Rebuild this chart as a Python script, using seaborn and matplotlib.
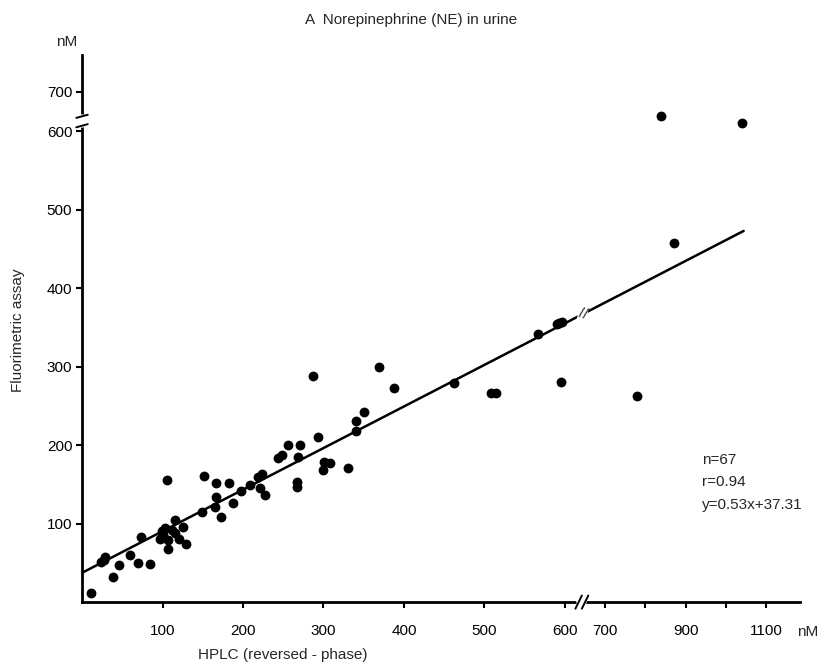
# Fluorimetric assay vs HPLC for urinary norepinephrine, with broken axes
import numpy as np
import pandas as pd
import seaborn as sns
import matplotlib.pyplot as plt

# HPLC values (nM)
hplc = [11, 24, 27, 29, 39, 46, 60, 70, 73, 84,
        97, 99, 101, 103, 105, 107, 107, 112, 115, 115,
        126, 129, 149, 152, 165, 166, 166, 173, 183, 187,
        198, 209, 219, 221, 224, 227, 244, 249, 256, 267,
        267, 268, 271, 287, 293, 299, 301, 308, 331, 341,
        341, 350, 369, 387, 462, 508, 514, 566, 590, 593,
        596, 595, 780, 872, 839, 1039, 120]
# fluorimetric values (nM)
fluor = [11, 51, 54, 57, 32, 47, 60, 50, 83, 48,
         81, 90, 85, 94, 155, 79, 68, 92, 104, 88,
         96, 74, 115, 161, 121, 152, 134, 108, 152, 126,
         141, 149, 160, 145, 163, 137, 183, 188, 200, 153,
         147, 185, 200, 288, 211, 168, 179, 177, 171, 231,
         218, 242, 300, 273, 279, 266, 266, 341, 354, 356,
         357, 280, 263, 458, 639, 621, 80]

slope = 0.53
intercept = 37.31
x_ticks = [100, 200, 300, 400, 500, 600, 700, 800, 900, 1000, 1100]
x_ticklabels = ['100', '200', '300', '400', '500', '600', '700', '', '900', '', '1100']
y_ticks = [100, 200, 300, 400, 500, 600, 700]
stats_lines = ['n=67', 'r=0.94', 'y=0.53x+37.31']

df = pd.DataFrame({'HPLC': hplc, 'Fluor': fluor})


# above 600 nM both axes are squeezed to half scale
def fwd(v):
    v = np.asarray(v, dtype=float)
    return np.where(v <= 600, v, 600 + (v - 600) * 0.5)


def inv(v):
    v = np.asarray(v, dtype=float)
    return np.where(v <= 600, v, 600 + (v - 600) * 2.0)


sns.set_style('ticks')
plt.rcParams['font.family'] = ['Liberation Sans', 'DejaVu Sans']

fig = plt.figure(figsize=(8.21, 6.72), dpi=100)
ax = fig.add_axes([0.0999, 0.104, 0.875, 0.814])
ax.set_xscale('function', functions=(fwd, inv))
ax.set_yscale('function', functions=(fwd, inv))

sns.scatterplot(data=df, x='HPLC', y='Fluor', ax=ax, color='black',
                s=50, edgecolor='black', linewidth=0, legend=False, zorder=3)

# fit line is straight on the page, so it follows the squeezed x axis
line_x = np.linspace(0, 1044, 100)
line_y = slope * fwd(line_x) + intercept
sns.lineplot(x=line_x, y=line_y, ax=ax, color='black', linewidth=1.8,
             sort=False, estimator=None)
ax.text(644, slope * fwd(644) + intercept, '//', fontsize=11, ha='center', va='center',
        rotation=-15, bbox=dict(fc='white', ec='none', pad=0.2), zorder=4)

ax.set_xlim(0, 1185)
ax.set_ylim(0, 794)
ax.set_xticks(x_ticks)
ax.set_xticklabels(x_ticklabels)
ax.set_yticks(y_ticks)
ax.tick_params(axis='both', direction='out', length=4, width=1.5, labelsize=11, pad=12,
               colors='black')
ax.tick_params(axis='y', pad=3)
ax.set_xlabel('')
ax.set_ylabel('')
sns.despine(ax=ax)
for side in ['left', 'bottom']:
    ax.spines[side].set_linewidth(2)
    ax.spines[side].set_color('black')

# axis breaks
xt = ax.get_xaxis_transform()
ax.plot([634, 648], [0, 0], transform=xt, color='white', lw=4, clip_on=False, zorder=5)
for bx in [632, 648]:
    ax.plot([bx - 6, bx + 10], [-0.012, 0.012], transform=xt, color='black', lw=1.4,
            clip_on=False, zorder=6)
yt = ax.get_yaxis_transform()
ax.plot([0, 0], [616, 636], transform=yt, color='white', lw=4, clip_on=False, zorder=5)
for by in [614, 638]:
    ax.plot([-0.008, 0.008], [by - 4, by + 4], transform=yt, color='black', lw=1.4,
            clip_on=False, zorder=6)

for i, line in enumerate(stats_lines):
    fig.text(702 / 821, 1 - (460 + 22.5 * i) / 672, line, ha='left', va='center',
             fontsize=11)

fig.text(411 / 821, 1 - 20 / 672, 'A  Norepinephrine (NE) in urine', ha='center',
         va='center', fontsize=11)
fig.text(67 / 821, 1 - 42 / 672, 'nM', ha='center', va='center', fontsize=11)
fig.text(808 / 821, 1 - 632 / 672, 'nM', ha='center', va='center', fontsize=11)
fig.text(283 / 821, 1 - 655 / 672, 'HPLC (reversed - phase)', ha='center', va='center',
         fontsize=11)
fig.text(18 / 821, 1 - 330 / 672, 'Fluorimetric assay', ha='center', va='center',
         rotation=90, fontsize=11)

fig.savefig('out.png', dpi=100, facecolor='white')
